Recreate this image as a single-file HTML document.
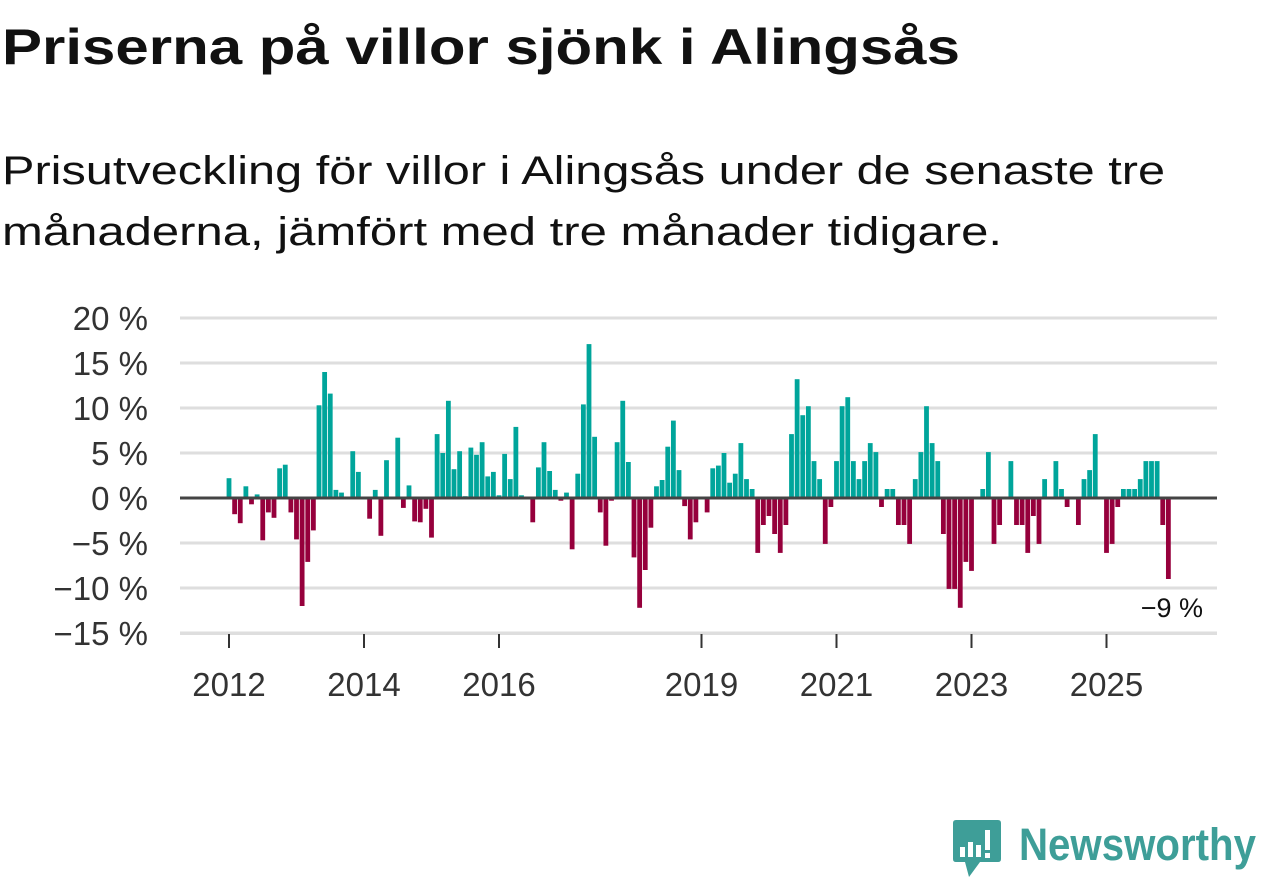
<!DOCTYPE html>
<html><head><meta charset="utf-8"><style>
html,body{margin:0;padding:0;background:#fff;width:1262px;height:879px;overflow:hidden}
svg{display:block;font-family:"Liberation Sans",sans-serif}
</style></head><body>
<svg id="chart" width="1262" height="879" viewBox="0 0 1262 879">
<text x="2" y="64" font-size="50" font-weight="bold" fill="#111" textLength="958" lengthAdjust="spacingAndGlyphs">Priserna på villor sjönk i Alingsås</text>
<text x="2" y="184" font-size="40" fill="#111" textLength="1163" lengthAdjust="spacingAndGlyphs">Prisutveckling för villor i Alingsås under de senaste tre</text>
<text x="2" y="245" font-size="40" fill="#111" textLength="1000" lengthAdjust="spacingAndGlyphs">månaderna, jämfört med tre månader tidigare.</text>
<g id="grid"></g>
<g id="bars"></g>
<line x1="180" x2="1217" y1="498" y2="498" stroke="#444" stroke-width="3"/>
<g id="xaxis"></g>
<text x="1203" y="617" font-size="27" fill="#111" text-anchor="end">−9 %</text>
<g>
<path d="M956 820 H998 Q1001 820 1001 823 V859 Q1001 862 998 862 H980 L969 877 L965 862 H956 Q953 862 953 859 V823 Q953 820 956 820 Z" fill="#3e9e98"/>
<rect x="960" y="847" width="5" height="10" fill="#fff"/><rect x="968" y="842" width="5" height="15" fill="#fff"/><rect x="976" y="845" width="5" height="12" fill="#fff"/><rect x="985" y="830" width="5" height="20" fill="#fff"/><rect x="985" y="853" width="5" height="5" fill="#fff"/>
<text x="1019" y="860" font-size="45" font-weight="bold" fill="#3e9e98" textLength="237" lengthAdjust="spacingAndGlyphs">Newsworthy</text>
</g>
</svg>
<script>
const values = [2.2,-1.8,-2.8,1.3,-0.7,0.4,-4.7,-1.6,-2.2,3.3,3.7,-1.6,-4.6,-12,-7.1,-3.6,10.3,14.0,11.6,0.9,0.6,0,5.2,2.9,0,-2.3,0.9,-4.2,4.2,0,6.7,-1.1,1.4,-2.6,-2.7,-1.2,-4.4,7.1,5.0,10.8,3.2,5.2,0.2,5.6,4.8,6.2,2.4,2.9,0.3,4.9,2.1,7.9,0.3,0,-2.7,3.4,6.2,3.0,0.9,-0.3,0.6,-5.7,2.7,10.4,17.1,6.8,-1.6,-5.3,-0.3,6.2,10.8,4.0,-6.6,-12.2,-8.0,-3.3,1.3,2.0,5.7,8.6,3.1,-0.9,-4.6,-2.7,0,-1.6,3.3,3.6,5.0,1.7,2.7,6.1,2.1,1.0,-6.1,-3.0,-2.0,-4.0,-6.1,-3.0,7.1,13.2,9.2,10.2,4.1,2.1,-5.1,-1.0,4.1,10.2,11.2,4.1,2.1,4.1,6.1,5.1,-1.0,1.0,1.0,-3.0,-3.0,-5.1,2.1,5.1,10.2,6.1,4.1,-4.0,-10.1,-10.1,-12.2,-7.1,-8.1,0,1.0,5.1,-5.1,-3.0,0,4.1,-3.0,-3.0,-6.1,-2.0,-5.1,2.1,0,4.1,1.0,-1.0,0,-3.0,2.1,3.1,7.1,0,-6.1,-5.1,-1.0,1.0,1.0,1.0,2.1,4.1,4.1,4.1,-3.0,-9.0];
const startYear = 2012;
const yTicks = [20,15,10,5,0,-5,-10,-15];
const yTickLabels = ["20 %","15 %","10 %","5 %","0 %","−5 %","−10 %","−15 %"];
const xTickYears = [2012,2014,2016,2019,2021,2023,2025];
const NS="http://www.w3.org/2000/svg";
const y = v => 498 - v*9;
const x = i => 229 + i*5.625;
const xYear = yr => x((yr-startYear)*12);
const grid=document.getElementById('grid');
yTicks.forEach((t,k)=>{
  if(t!==0){const l=document.createElementNS(NS,'line');
  l.setAttribute('x1',180);l.setAttribute('x2',1217);l.setAttribute('y1',y(t));l.setAttribute('y2',y(t));
  l.setAttribute('stroke','#dedede');l.setAttribute('stroke-width',3);
  
  
  grid.appendChild(l);}
  const tx=document.createElementNS(NS,'text');
  tx.setAttribute('x',148);tx.setAttribute('y',y(t)+12);tx.setAttribute('text-anchor','end');
  tx.setAttribute('font-size',33);tx.setAttribute('fill','#333');tx.textContent=yTickLabels[k];
  
  
  grid.appendChild(tx);
});
const bars=document.getElementById('bars');
values.forEach((v,i)=>{
  if(v===0)return;
  const r=document.createElementNS(NS,'rect');
  r.setAttribute('x',x(i)-2.4);r.setAttribute('width',4.8);
  r.setAttribute('y',v>0?y(v):498);r.setAttribute('height',Math.abs(v)*9);
  r.setAttribute('fill',v>0?'#00a59b':'#96003c');
  
  
  bars.appendChild(r);
});
const xa=document.getElementById('xaxis');
const base=document.createElementNS(NS,'line');
base.setAttribute('x1',180);base.setAttribute('x2',1217);base.setAttribute('y1',634);base.setAttribute('y2',634);
base.setAttribute('stroke','#dedede');base.setAttribute('stroke-width',2);


xa.appendChild(base);
xTickYears.forEach(yr=>{
  const l=document.createElementNS(NS,'line');
  l.setAttribute('x1',xYear(yr));l.setAttribute('x2',xYear(yr));l.setAttribute('y1',634);l.setAttribute('y2',648);
  l.setAttribute('stroke','#333');l.setAttribute('stroke-width',2);
  
  
  xa.appendChild(l);
  const t=document.createElementNS(NS,'text');
  t.setAttribute('x',xYear(yr));t.setAttribute('y',696);t.setAttribute('text-anchor','middle');
  t.setAttribute('font-size',33);t.setAttribute('fill','#333');t.textContent=yr;
  
  
  xa.appendChild(t);
});
</script>
</body></html>
